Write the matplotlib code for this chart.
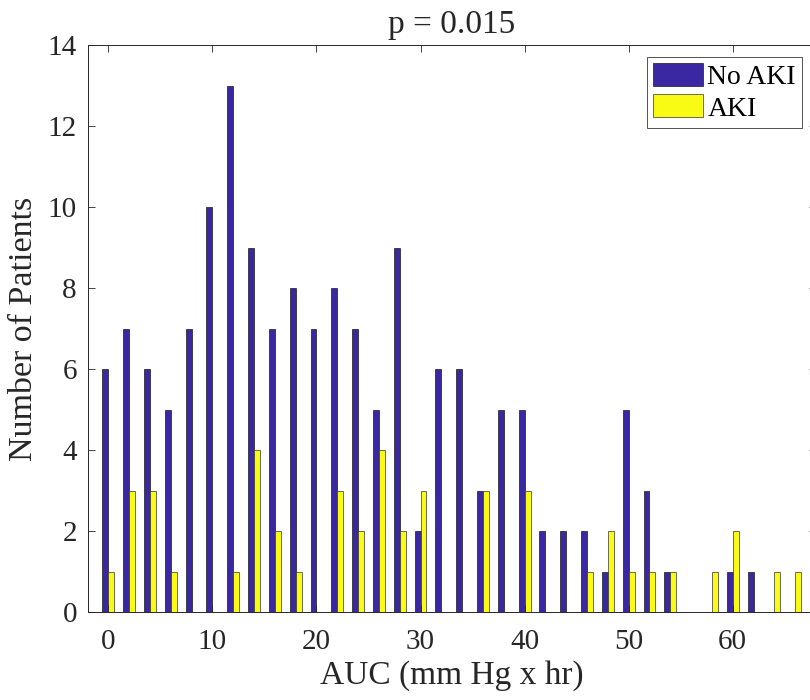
import numpy as np
import matplotlib
matplotlib.use("Agg")
import matplotlib.pyplot as plt
from matplotlib.patches import Patch

# AUC bins (mm Hg x hr) and patient counts per bin
bins = [0, 2, 4, 6, 8, 10, 12, 14, 16, 18, 20, 22, 24, 26, 28, 30, 32, 34,
        36, 38, 40, 42, 44, 46, 48, 50, 52, 54, 56, 58, 60, 62, 64, 66]
no_aki = [6, 7, 6, 5, 7, 10, 13, 9, 7, 8, 7, 8, 7, 5, 9, 2, 6, 6,
          3, 5, 5, 2, 2, 2, 1, 5, 3, 1, 0, 0, 1, 1, 0, 0]
aki = [1, 3, 3, 1, 0, 0, 1, 4, 2, 1, 0, 3, 2, 4, 2, 3, 0, 0,
       3, 0, 3, 0, 0, 1, 2, 1, 1, 1, 0, 1, 2, 0, 1, 1]
series_names = ["No AKI", "AKI"]
title_text = "p = 0.015"
xlabel_text = "AUC (mm Hg x hr)"
ylabel_text = "Number of Patients"
xticks = [0, 10, 20, 30, 40, 50, 60]
yticks = [0, 2, 4, 6, 8, 10, 12, 14]

blue = "#3a28a2"
yellow = "#f9fb15"
axis_gray = "#262626"

plt.rcParams["font.family"] = ["Liberation Serif", "DejaVu Serif"]

W, H = 810, 700
fig = plt.figure(figsize=(W / 100, H / 100), dpi=100)
left, right, top, bottom = 88, 816, 45, 612
ax = fig.add_axes([left / W, 1 - bottom / H, (right - left) / W, (bottom - top) / H])

x = np.array(bins, dtype=float)
bw = 0.57
ax.bar(x - bw / 2, no_aki, width=bw, color=blue, edgecolor="#1a1a1a", linewidth=0.5)
ax.bar(x + bw / 2, aki, width=bw, color=yellow, edgecolor="#333333", linewidth=0.5)

ax.set_xlim(-1.95, 68)
ax.set_ylim(0, 14)
ax.set_xticks(xticks)
ax.set_yticks(yticks)
ax.tick_params(axis="both", which="both", direction="in", length=5,
               width=0.6, color=axis_gray, top=True, right=True,
               labelsize=21, labelcolor=axis_gray)
ax.tick_params(axis="x", pad=12)
ax.tick_params(axis="y", pad=8)
for sp in ax.spines.values():
    sp.set_color(axis_gray)
    sp.set_linewidth(0.7)

ax.set_title(title_text, fontsize=24, color=axis_gray, pad=9)
ax.set_xlabel(xlabel_text, fontsize=24, color=axis_gray, labelpad=4)
ax.set_ylabel(ylabel_text, fontsize=24.5, color=axis_gray, labelpad=6)

handles = [Patch(facecolor=blue, edgecolor="#1a1a1a", linewidth=0.5),
           Patch(facecolor=yellow, edgecolor="#333333", linewidth=0.5)]
leg = ax.legend(handles, series_names, loc="upper right",
                bbox_to_anchor=(802 / W, 1 - 57 / H), bbox_transform=fig.transFigure,
                borderaxespad=0, fontsize=20, handlelength=1.8, handleheight=0.9,
                handletextpad=0.15, labelspacing=0.15, borderpad=0.22,
                frameon=True, fancybox=False, edgecolor=axis_gray)
leg.get_frame().set_linewidth(0.7)
for t in leg.get_texts():
    t.set_color("black")

fig.savefig("out.png", dpi=100)
